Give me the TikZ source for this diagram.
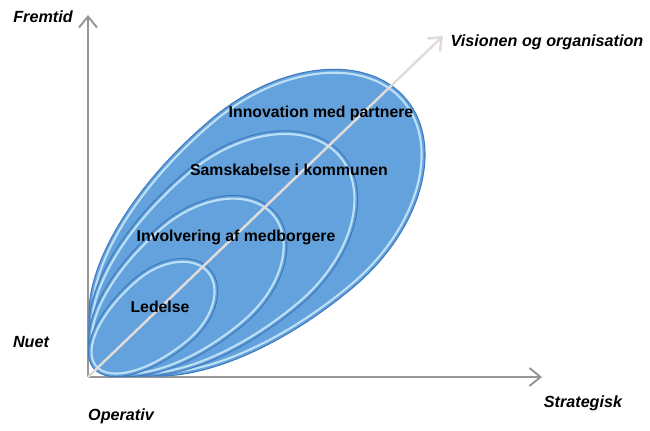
\documentclass[tikz,border=0pt]{standalone}
\usepackage{fontspec}
\setmainfont{Liberation Sans}
\usetikzlibrary{arrows.meta}

\definecolor{lagblaa}{RGB}{100,162,221}
\definecolor{lagkant}{RGB}{62,122,188}
\definecolor{lyskant}{RGB}{205,236,250}
\definecolor{aksegraa}{RGB}{150,150,150}
\definecolor{pilgraa}{RGB}{225,220,218}

\begin{document}
\begin{tikzpicture}[
    akse/.style={draw=aksegraa, line width=1.1pt, -{Straight Barb[length=2.2mm,width=3.6mm]}},
    lag/.style={fill=lagblaa, draw=lagkant, line width=0.6pt},
    glans/.style={draw=lyskant, line width=1.2pt, opacity=0.85},
    etiket/.style={font=\bfseries\itshape\fontsize{9.2}{11}\selectfont},
    tekst/.style={font=\bfseries\fontsize{9}{11}\selectfont, text=black}
]
    \useasboundingbox (-1.76,-1.06) rectangle (11.24,7.54);

    % Akserne
    \coordinate (O) at (0,0);
    \coordinate (ytop) at (0,7.24);
    \coordinate (xend) at (9.08,0);
    \draw[akse] (O) -- (ytop);
    \draw[akse] (O) -- (xend);

    % Lagene som "æg" (yderst først)
    \begin{scope}[shift={(3.89,3.48)}, rotate=40]
        \filldraw[lag] (0,2.2) arc[start angle=90, end angle=-90, x radius=3.23, y radius=2.2]
            arc[start angle=270, end angle=90, x radius=4.7, y radius=2.2] -- cycle;
        \draw[glans] (0,2.13) arc[start angle=90, end angle=-90, x radius=3.16, y radius=2.13]
            arc[start angle=270, end angle=90, x radius=4.63, y radius=2.13] -- cycle;
    \end{scope}

    \begin{scope}[scale=0.80]
    \begin{scope}[shift={(3.89,3.48)}, rotate=40]
        \filldraw[lag] (0,2.2) arc[start angle=90, end angle=-90, x radius=3.23, y radius=2.2]
            arc[start angle=270, end angle=90, x radius=4.7, y radius=2.2] -- cycle;
        \draw[glans] (0,2.12) arc[start angle=90, end angle=-90, x radius=3.15, y radius=2.12]
            arc[start angle=270, end angle=90, x radius=4.62, y radius=2.12] -- cycle;
    \end{scope}
    \end{scope}

    \begin{scope}[scale=0.59]
    \begin{scope}[shift={(3.89,3.48)}, rotate=40]
        \filldraw[lag] (0,2.2) arc[start angle=90, end angle=-90, x radius=3.23, y radius=2.2]
            arc[start angle=270, end angle=90, x radius=4.7, y radius=2.2] -- cycle;
        \draw[glans] (0,2.09) arc[start angle=90, end angle=-90, x radius=3.12, y radius=2.09]
            arc[start angle=270, end angle=90, x radius=4.59, y radius=2.09] -- cycle;
    \end{scope}
    \end{scope}

    \begin{scope}[scale=0.385]
    \begin{scope}[shift={(3.89,3.48)}, rotate=40]
        \filldraw[lag] (0,2.2) arc[start angle=90, end angle=-90, x radius=3.23, y radius=2.2]
            arc[start angle=270, end angle=90, x radius=4.7, y radius=2.2] -- cycle;
        \draw[glans] (0,2.03) arc[start angle=90, end angle=-90, x radius=3.06, y radius=2.03]
            arc[start angle=270, end angle=90, x radius=4.53, y radius=2.03] -- cycle;
    \end{scope}
    \end{scope}

    % Diagonal pil
    \coordinate (vis) at (7.1,6.82);
    \draw[draw=pilgraa, line width=1.4pt, -{Straight Barb[length=2.2mm,width=3.6mm]}] (O) -- (vis);

    % Tekster i lagene
    \node[tekst] (innovation) at (4.66,5.28) {Innovation med partnere};
    \node[tekst] (samskabelse) at (4.02,4.14) {Samskabelse i kommunen};
    \node[tekst] (involvering) at (2.96,2.80) {Involvering af medborgere};
    \node[tekst] (ledelse) at (1.44,1.40) {Ledelse};

    % Aksetekster
    \node[etiket] (fremtid) at (-0.90,7.20) {Fremtid};
    \node[etiket] (nuet) at (-1.14,0.70) {Nuet};
    \node[etiket] (operativ) at (0.66,-0.78) {Operativ};
    \node[etiket] (strategisk) at (9.90,-0.52) {Strategisk};
    \node[etiket] (visionen) at (9.18,6.70) {Visionen og organisation};

\end{tikzpicture}
\end{document}
